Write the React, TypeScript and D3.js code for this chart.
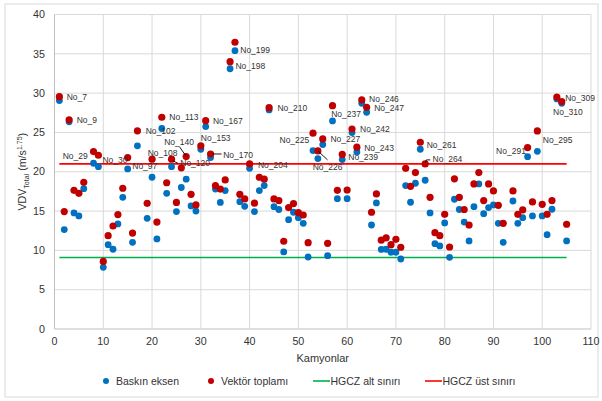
import React from "react";
import * as d3 from "d3";

// Truck index on the x axis
const trucks = [
  1, 2, 3, 4, 5, 6, 8, 9, 10, 11, 12, 13, 14, 15, 16, 17, 19, 20, 21, 22,
  23, 24, 25, 26, 27, 28, 29, 30, 31, 32, 33, 34, 35, 36, 37, 38, 39, 40, 41, 42,
  43, 44, 45, 46, 47, 48, 49, 50, 51, 52, 53, 54, 55, 56, 57, 58, 59, 60, 61, 62,
  63, 64, 65, 66, 67, 68, 69, 70, 71, 72, 73, 74, 75, 76, 77, 78, 79, 80, 81, 82,
  83, 84, 85, 86, 87, 88, 89, 90, 91, 92, 94, 95, 96, 97, 98, 99, 100, 101, 102, 103,
  104, 105,
];

// VDV of the dominant axis (Baskın eksen)
const dominantAxis = [
  29.05, 12.64, 26.35, 14.76, 14.38, 17.85, 21.08, 20.65, 7.85, 10.73, 10.14, 13.36, 16.75, 20.36, 11.03, 23.3, 14.08, 19.3, 11.45, 25.5,
  17.26, 20.65, 14.93, 18.0, 19.05, 15.65, 15.0, 22.86, 25.74, 21.8, 17.8, 16.1, 17.6, 33.1, 35.4, 16.2, 15.6, 20.44, 14.93, 17.6,
  18.24, 27.86, 15.56, 15.2, 9.8, 13.9, 14.85, 14.16, 13.44, 9.16, 22.69, 21.67, 23.45, 9.33, 26.46, 16.58, 21.55, 16.58, 24.98, 22.52,
  28.7, 27.57, 13.23, 16.03, 10.12, 10.14, 9.76, 9.76, 8.9, 18.24, 16.12, 18.54, 22.86, 18.92, 14.76, 10.85, 10.56, 13.49, 9.12, 16.5,
  15.2, 13.6, 11.2, 15.56, 18.45, 14.67, 15.44, 15.78, 13.44, 11.03, 16.28, 13.44, 14.16, 21.92, 14.38, 22.6, 14.38, 12.0, 15.23, 29.26,
  28.7, 11.2,
];

// VDV of the vector sum (Vektör toplamı)
const vectorSum = [
  29.55, 14.93, 26.6, 17.64, 17.26, 18.66, 22.56, 22.1, 8.6, 11.87, 13.1, 14.55, 17.9, 21.8, 12.2, 25.2, 15.99, 21.6, 13.6, 26.93,
  18.6, 21.6, 16.1, 20.5, 21.93, 17.13, 15.78, 23.28, 26.5, 22.26, 18.24, 17.8, 18.96, 34.0, 36.47, 17.13, 16.54, 21.0, 16.0, 19.3,
  19.05, 28.15, 16.54, 16.33, 11.16, 15.44, 15.95, 14.8, 14.5, 10.98, 24.9, 22.65, 24.17, 10.9, 28.4, 17.64, 22.2, 17.68, 25.44, 23.12,
  29.13, 28.2, 14.85, 17.18, 11.3, 11.6, 10.73, 11.4, 10.4, 20.44, 18.15, 19.9, 23.75, 21.0, 16.75, 12.25, 11.87, 14.59, 10.43, 19.1,
  16.75, 15.2, 13.23, 18.45, 19.9, 16.33, 18.45, 17.56, 15.73, 13.44, 17.56, 14.59, 15.14, 23.07, 16.16, 25.19, 15.86, 14.59, 16.33, 29.5,
  28.92, 13.32,
];

// HGCZ limits
const hgczLower = 9.1;
const hgczUpper = 21.0;
const limitRange = [1, 105];

// Truck identifiers shown beside points
const labelTruckIndex = [1, 3, 8, 9, 15, 17, 20, 22, 24, 27, 30, 31, 32, 36, 37, 40, 44, 53, 54, 55, 57, 59, 61, 62, 63, 64, 75, 76, 97, 99, 103, 104];
const labelTexts = [
  "No_7", "No_9", "No_29", "No_30", "No_97", "No_102", "No_108", "No_113", "No_120", "No_140", "No_153", "No_167", "No_170", "No_198",
  "No_199", "No_204", "No_210", "No_225", "No_226", "No_227", "No_237", "No_239", "No_242", "No_243", "No_246", "No_247", "No_261",
  "No_264", "No_291", "No_295", "No_309", "No_310",
];

const xTicks = [0, 10, 20, 30, 40, 50, 60, 70, 80, 90, 100, 110];
const yTicks = [0, 5, 10, 15, 20, 25, 30, 35, 40];

// Label placement relative to the vector-sum point: [dx, dy, anchor, leader points]
type Placement = { dx: number; dy: number; anchor?: "start" | "end" | "middle"; leader?: [number, number][] };
const labelPlacement: Placement[] = [
  { dx: 7.3, dy: 0.6 },
  { dx: 7.6, dy: 0 },
  { dx: -5.8, dy: 4, anchor: "end" },
  { dx: 4, dy: 4.7 },
  { dx: 4.6, dy: 8.3 },
  { dx: 8.3, dy: 0 },
  { dx: -4.3, dy: -6 },
  { dx: 7.5, dy: 0 },
  { dx: 8.7, dy: 4, leader: [[1.2, 1.5], [6.5, 4.2]] },
  { dx: -22, dy: -15, leader: [[-6.5, -9.5], [-0.5, -1]] },
  { dx: 0, dy: -7.7 },
  { dx: 7.3, dy: 0 },
  { dx: 12.6, dy: 1, leader: [[2.6, 0], [11, 0]] },
  { dx: 5.3, dy: 4.3 },
  { dx: 5.3, dy: 7.7 },
  { dx: 8.4, dy: 1 },
  { dx: 8.3, dy: 0.3 },
  { dx: -3.7, dy: 6.7, anchor: "end" },
  { dx: 9.7, dy: 16.3, anchor: "middle", leader: [[0, 0], [9.7, 9]] },
  { dx: 7.7, dy: 0 },
  { dx: -1.3, dy: 8.3 },
  { dx: 6, dy: 3 },
  { dx: 8, dy: 0 },
  { dx: 7.3, dy: 0.4 },
  { dx: 7.3, dy: -0.6 },
  { dx: 7.6, dy: 1.2 },
  { dx: 6.4, dy: 2.7 },
  { dx: 7.4, dy: -5, leader: [[0.4, -1.5], [1.2, -4], [5.2, -4]] },
  { dx: -1.7, dy: 3.3, anchor: "end" },
  { dx: 5.4, dy: 9 },
  { dx: 8.3, dy: 1.3 },
  { dx: -8.7, dy: 10.6 },
];

const W = 602;
const H = 401;
const FONT = "'Liberation Sans', Arial, sans-serif";
const BLUE = "#0070C0";
const RED = "#C00000";
const GREEN = "#00B050";
const LIMIT_RED = "#FF0000";
const GRID = "#D9D9D9";
const TEXT = "#333333";

export default function App() {
  const x = d3.scaleLinear().domain([0, 110]).range([54.5, 591]);
  const y = d3.scaleLinear().domain([0, 40]).range([329, 14.5]);

  const line = d3.line<[number, number]>();

  const legendY = 381;

  return (
    <svg
      width={W}
      height={H}
      viewBox={`0 0 ${W} ${H}`}
      style={{ position: "absolute", left: 0, top: 0, background: "#fff" }}
      fontFamily={FONT}
    >
      <rect x={5} y={4} width={593} height={393} fill="#fff" stroke={GRID} strokeWidth={1} />

      {/* grid */}
      {yTicks.map((t) => (
        <line key={"gy" + t} x1={x(0)} x2={x(110)} y1={y(t)} y2={y(t)} stroke={t === 0 ? "#BFBFBF" : GRID} strokeWidth={1} />
      ))}
      {xTicks.map((t) => (
        <line key={"gx" + t} x1={x(t)} x2={x(t)} y1={y(0)} y2={y(40)} stroke={t === 0 ? "#BFBFBF" : GRID} strokeWidth={1} />
      ))}

      {/* tick labels */}
      {yTicks.map((t) => (
        <text key={"ty" + t} x={45} y={y(t)} dy="0.35em" textAnchor="end" fontSize={10.7} fill={TEXT}>
          {t}
        </text>
      ))}
      {xTicks.map((t) => (
        <text key={"tx" + t} x={x(t)} y={341} dy="0.35em" textAnchor="middle" fontSize={10.7} fill={TEXT}>
          {t}
        </text>
      ))}

      {/* axis titles */}
      <text x={x(55)} y={358} dy="0.35em" textAnchor="middle" fontSize={11} fill={TEXT}>
        Kamyonlar
      </text>
      <text transform={`translate(26,${y(20)}) rotate(-90)`} textAnchor="middle" fontSize={10.7} fill={TEXT}>
        <tspan>VDV</tspan>
        <tspan fontSize={7} dy={2.5}>Total</tspan>
        <tspan dy={-2.5}> (m/s</tspan>
        <tspan fontSize={7} dy={-4}>1.75</tspan>
        <tspan dy={4}>)</tspan>
      </text>

      {/* HGCZ limits */}
      <line x1={x(limitRange[0])} x2={x(limitRange[1])} y1={y(hgczLower)} y2={y(hgczLower)} stroke={GREEN} strokeWidth={1.6} />
      <line x1={x(limitRange[0])} x2={x(limitRange[1])} y1={y(hgczUpper)} y2={y(hgczUpper)} stroke={LIMIT_RED} strokeWidth={1.6} />

      {/* points */}
      {trucks.map((t, i) => (
        <circle key={"b" + t} cx={x(t)} cy={y(dominantAxis[i])} r={3.4} fill={BLUE} />
      ))}
      {trucks.map((t, i) => (
        <circle key={"r" + t} cx={x(t)} cy={y(vectorSum[i])} r={3.6} fill={RED} />
      ))}

      {/* truck labels */}
      {labelTexts.map((txt, i) => {
        const k = trucks.indexOf(labelTruckIndex[i]);
        const px = x(trucks[k]);
        const py = y(vectorSum[k]);
        const p = labelPlacement[i];
        return (
          <g key={txt}>
            {p.leader && (
              <path
                d={line(p.leader.map(([a, b]) => [px + a, py + b] as [number, number])) || ""}
                fill="none"
                stroke="#000"
                strokeWidth={0.9}
              />
            )}
            <text x={px + p.dx} y={py + p.dy} dy="0.35em" textAnchor={p.anchor || "start"} fontSize={8.5} fill={TEXT}>
              {txt}
            </text>
          </g>
        );
      })}

      {/* legend */}
      <circle cx={106} cy={legendY} r={3} fill={BLUE} />
      <text x={116} y={legendY} dy="0.35em" fontSize={10.5} fill={TEXT}>Baskın eksen</text>
      <circle cx={211} cy={legendY} r={3} fill={RED} />
      <text x={221} y={legendY} dy="0.35em" fontSize={10.5} fill={TEXT}>Vektör toplamı</text>
      <line x1={313} x2={330} y1={legendY} y2={legendY} stroke={GREEN} strokeWidth={1.6} />
      <text x={330.5} y={legendY} dy="0.35em" fontSize={10.5} fill={TEXT}>HGCZ alt sınırı</text>
      <line x1={425} x2={442} y1={legendY} y2={legendY} stroke={LIMIT_RED} strokeWidth={1.6} />
      <text x={442.5} y={legendY} dy="0.35em" fontSize={10.5} fill={TEXT}>HGCZ üst sınırı</text>
    </svg>
  );
}
